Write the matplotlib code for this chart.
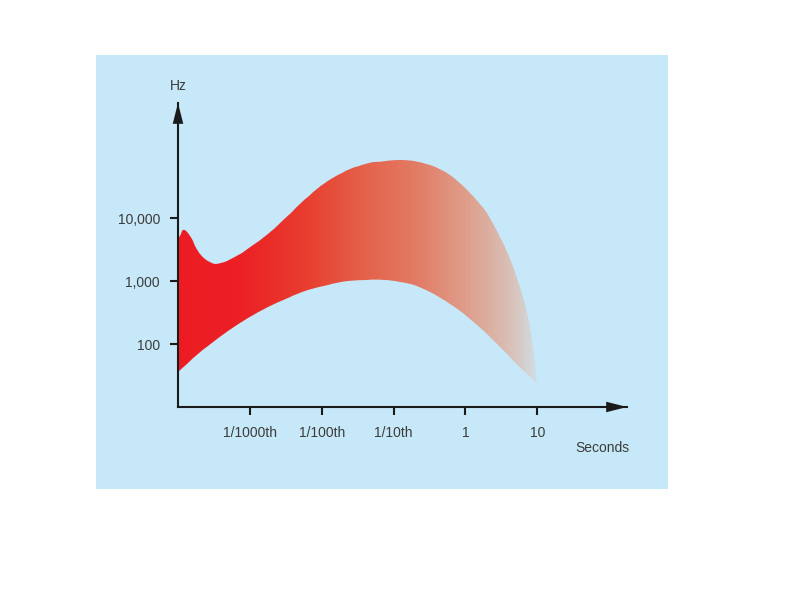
import numpy as np
import matplotlib.pyplot as plt
from matplotlib.colors import LinearSegmentedColormap
from matplotlib.patches import PathPatch, Rectangle
from matplotlib.path import Path

# Data, as log10(seconds) and log10(Hz)
upper_log_sec = [-4.0, -3.986, -3.944, -3.903, -3.833, -3.763, -3.694, -3.554,
                 -3.415, -3.234, -2.997, -2.760, -2.538, -2.301, -2.064, -1.841,
                 -1.604, -1.368, -1.187, -1.019, -0.796, -0.630, -0.351, -0.072,
                 0.206, 0.387, 0.582, 0.721, 0.861, 0.944, 1.0]
upper_log_hz = [3.65, 3.698, 3.810, 3.825, 3.730, 3.540, 3.413, 3.286,
                3.270, 3.365, 3.540, 3.730, 3.968, 4.238, 4.476, 4.651,
                4.794, 4.873, 4.899, 4.921, 4.921, 4.889, 4.794, 4.571,
                4.238, 3.921, 3.492, 3.063, 2.540, 2.016, 1.381]
lower_log_sec = [-4.0, -3.721, -3.443, -3.164, -2.886, -2.607, -2.329, -2.050,
                 -1.772, -1.493, -1.256, -1.019, -0.796, -0.630, -0.351, -0.072,
                 0.206, 0.485, 0.721, 0.944, 1.0]
lower_log_hz = [1.556, 1.857, 2.095, 2.317, 2.508, 2.667, 2.810, 2.905,
                2.984, 3.016, 3.032, 3.016, 2.968, 2.905, 2.746, 2.540,
                2.270, 1.952, 1.667, 1.43, 1.381]

x_ticks = [1e-3, 1e-2, 1e-1, 1, 10]
x_labels = ['1/1000th', '1/100th', '1/10th', '1', '10']
y_ticks = [100, 1000, 10000]
y_labels = ['100', '1,000', '10,000']

plt.rcParams['font.family'] = ['Liberation Sans', 'DejaVu Sans']
bg = '#c7e8f8'
ink = '#1a1a1a'
txt = '#3c3c3c'


def smooth(xs, ys):
    # quadratic bezier through midpoints, built in log space
    p = np.column_stack([xs, ys])
    verts = [p[0]]
    codes = [Path.LINETO]
    for i in range(1, len(p) - 1):
        verts += [p[i], (p[i] + p[i + 1]) / 2]
        codes += [Path.CURVE3, Path.CURVE3]
    verts.append(p[-1])
    codes.append(Path.LINETO)
    return np.array(verts), codes


fig = plt.figure(figsize=(8, 6), dpi=100)
fig.patches.append(Rectangle((96 / 800, 1 - 489 / 600), 572 / 800, 434 / 600,
                             transform=fig.transFigure, facecolor=bg,
                             edgecolor='none', zorder=-10))

ax = fig.add_axes([178 / 800, 1 - 407 / 600, 449 / 800, 304 / 600])
ax.set_xscale('log')
ax.set_yscale('log')
ax.set_xlim(1e-4, 10 ** 2.25)
ax.set_ylim(10, 10 ** 5.83)
ax.patch.set_alpha(0)

# gradient band, clipped to the area between the two curves
cmap = LinearSegmentedColormap.from_list('band', [
    (0.0, '#ed1c24'), (0.17, '#ec1f25'), (0.35, '#e83c2e'), (0.53, '#e4634c'),
    (0.67, '#e27c66'), (0.81, '#dd9f8c'), (0.91, '#d9bab0'), (0.95, '#d6c8c2'),
    (1.0, '#d0dce4')])
uv, uc = smooth(upper_log_sec, upper_log_hz)
lv, lc = smooth(lower_log_sec[::-1], lower_log_hz[::-1])
uc[0] = Path.MOVETO
verts = np.vstack([uv, lv, uv[:1]])
codes = uc + lc + [Path.CLOSEPOLY]
band = PathPatch(Path(10 ** verts, codes), facecolor='none', edgecolor='none')
ax.add_patch(band)
xe = np.logspace(-4, 1.0, 300)
grad = np.linspace(0, 1, 299).reshape(1, -1)
mesh = ax.pcolormesh(xe, [10, 1e5], grad, cmap=cmap, shading='flat',
                     zorder=1, antialiased=False)
mesh.set_clip_path(band)

# axes with arrows
for s in ['top', 'right']:
    ax.spines[s].set_visible(False)
for s in ['left', 'bottom']:
    ax.spines[s].set_linewidth(1.5)
    ax.spines[s].set_color(ink)
arrow = dict(arrowstyle='-|>,head_length=1.5,head_width=0.38', color=ink,
             lw=0, mutation_scale=10, shrinkA=0, shrinkB=0)
ax.annotate('', xy=(1, 0), xytext=(0.9, 0), xycoords='axes fraction',
            arrowprops=arrow, annotation_clip=False)
ax.annotate('', xy=(0, 1), xytext=(0, 0.9), xycoords='axes fraction',
            arrowprops=arrow, annotation_clip=False)

ax.set_xticks(x_ticks)
ax.set_xticklabels(x_labels)
ax.set_yticks(y_ticks)
ax.set_yticklabels(y_labels)
ax.minorticks_off()
ax.tick_params(axis='both', length=6, width=1.5, color=ink,
               labelsize=10, labelcolor=txt, pad=8)
ax.tick_params(axis='y', pad=7)

ax.text(0, 1.055, 'Hz', transform=ax.transAxes, ha='center', va='center',
        fontsize=10, color=txt)
ax.text(1.005, -0.135, 'Seconds', transform=ax.transAxes, ha='right', va='center',
        fontsize=10, color=txt)

fig.savefig('out.png', dpi=100)
